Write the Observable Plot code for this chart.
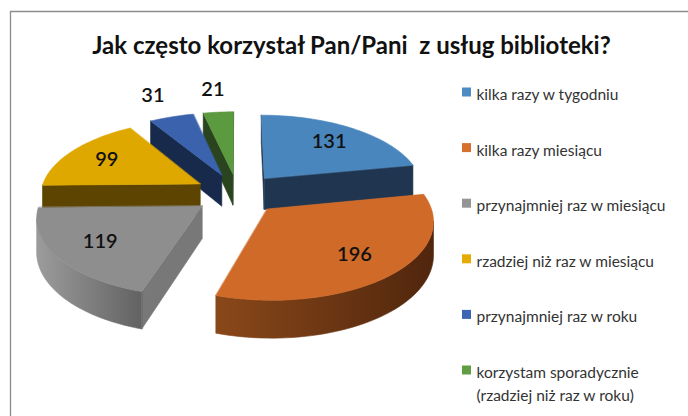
<!DOCTYPE html>
<html><head><meta charset="utf-8">
<script src="https://cdn.jsdelivr.net/npm/d3@7"></script>
<script src="https://cdn.jsdelivr.net/npm/@observablehq/plot@0.6"></script>
<style>body{margin:0;background:#fff;}</style>
</head><body><div id="chart"></div>
<script>
// ---- data ----
const titleText = "Jak często korzystał Pan/Pani\u00a0 z usług biblioteki?";
const categories = [
  "kilka razy w tygodniu",
  "kilka razy miesiącu",
  "przynajmniej raz w miesiącu",
  "rzadziej niż raz w miesiącu",
  "przynajmniej raz w roku",
  "korzystam sporadycznie\n(rzadziej niż raz w roku)"
];
const values = [131, 196, 119, 99, 31, 21];
const legendColors = ["#4F8BC3", "#D7702D", "#959595", "#E4AB00", "#3C65B2", "#5F9E42"];
const topColors    = ["#4A86BE", "#D06A28", "#8E8E8E", "#DFA800", "#3A62AD", "#5C9A3F"];
const radialColors = ["#20354F", "#5A2C11", "#787878", "#5D4400", "#172A4B", "#2A4420"];
const outerLight   = ["#2A4868", "#8A4819", "#9C9C9C", "#6E5100", "#223A66", "#36572A"];
const outerDark    = ["#1A2C44", "#50260D", "#626262", "#4E3A00", "#132340", "#223818"];

// ---- layout / projection ----
const W = 688, H = 416;
const CX = 237, CY = 193, RX = 160, RY = 75, PERSP = 0.13, DEPTH = 32, EXPLODE = 0.27;
const proj = (X, Z, bottom = false) => {
  const s = 1 / (1 + PERSP * Z);
  return [CX + X * RX * s, CY - Z * RY * s + (bottom ? DEPTH * s : 0)];
};
const signedArea = (p) => {
  let a = 0;
  for (let i = 0; i < p.length; i++) {
    const [x1, y1] = p[i], [x2, y2] = p[(i + 1) % p.length];
    a += x1 * y2 - x2 * y1;
  }
  return a / 2;
};

const total = d3.sum(values);
const arcs = d3.pie().sort(null).value(d => d)(values);

const slices = arcs.map((arc, i) => {
  const a0 = arc.startAngle, a1 = arc.endAngle, mid = (a0 + a1) / 2;
  const ox = EXPLODE * Math.sin(mid), oz = EXPLODE * Math.cos(mid);
  const rim = (a, b) => proj(ox + Math.sin(a), oz + Math.cos(a), b);
  const apex = (b) => proj(ox, oz, b);
  const n = Math.max(2, Math.ceil((a1 - a0) / (Math.PI / 90)));
  const angs = d3.range(n + 1).map(k => a0 + (a1 - a0) * k / n);
  const top = [apex(false), ...angs.map(a => rim(a, false))];
  const sTop = Math.sign(signedArea(top));
  const faces = [];
  const start = [apex(false), apex(true), rim(a0, true), rim(a0, false)];
  if (Math.sign(signedArea(start)) === sTop) faces.push({pts: start, fill: radialColors[i]});
  const end = [apex(false), rim(a1, false), rim(a1, true), apex(true)];
  if (Math.sign(signedArea(end)) === sTop) faces.push({pts: end, fill: radialColors[i]});
  // outer curved side, merge visible runs
  let run = [];
  const flush = () => {
    if (run.length > 1) {
      const poly = [...run.map(a => rim(a, false)), ...run.slice().reverse().map(a => rim(a, true))];
      faces.push({pts: poly, fill: `url(#side${i})`});
    }
    run = [];
  };
  for (let k = 0; k < n; k++) {
    const q = [rim(angs[k + 1], false), rim(angs[k], false), rim(angs[k], true), rim(angs[k + 1], true)];
    const ar = signedArea(q);
    if (Math.sign(ar) === sTop && Math.abs(ar) > 1e-6) {
      if (run.length === 0) run.push(angs[k]);
      run.push(angs[k + 1]);
    } else flush();
  }
  flush();
  faces.push({pts: top, fill: topColors[i]});
  const share = values[i] / total;
  const r = share < 0.06 ? 1.43 : 0.72;
  const lab = proj(ox + r * Math.sin(mid), oz + r * Math.cos(mid));
  return {i, oz, faces, lab, value: values[i]};
});

const order = slices.slice().sort((a, b) => b.oz - a.oz);

const defsMark = () => {
  const g = d3.create("svg:g");
  const defs = g.append("defs");
  values.forEach((v, i) => {
    const lg = defs.append("linearGradient").attr("id", `side${i}`)
      .attr("x1", 0).attr("x2", 1).attr("y1", 0).attr("y2", 0);
    lg.append("stop").attr("offset", 0).attr("stop-color", outerLight[i]);
    lg.append("stop").attr("offset", 1).attr("stop-color", outerDark[i]);
  });
  return g.node();
};

const faceMarks = [];
for (const s of order) {
  for (const f of s.faces) {
    faceMarks.push(Plot.line(f.pts, {
      x: d => d[0], y: d => d[1], curve: "linear-closed",
      fill: f.fill, stroke: f.fill, strokeWidth: 0.6, strokeLinejoin: "round"
    }));
  }
}

const LEG_X = 462, LEG_Y0 = 92, LEG_DY = 55.6, LEG_SW = 9, LEG_FS = 15.5, LEG_LH = 1.5;
const legendRows = categories.map((c, i) => ({c, i, lines: c.split("\n").length}));

const chart = Plot.plot({
  width: W, height: H, margin: 0,
  x: {domain: [0, W], range: [0, W], axis: null},
  y: {domain: [0, H], range: [0, H], axis: null},
  style: {fontFamily: "Lato, 'Open Sans', sans-serif", background: "#fff"},
  marks: [
    defsMark,
    Plot.ruleX([10], {y1: 11, y2: H, stroke: "#8c8c8c", strokeWidth: 1.3}),
    Plot.ruleY([11], {x1: 10, x2: W, stroke: "#8c8c8c", strokeWidth: 1.3}),
    ...faceMarks,
    Plot.text(slices, {x: d => d.lab[0], y: d => d.lab[1], text: d => String(d.value),
      fontSize: 20, fontWeight: 600, fill: "#111"}),
    Plot.text([titleText], {x: 351, y: 46, text: d => d, fontSize: 24, fontWeight: 700, fill: "#111"}),
    Plot.rect(legendRows, {x1: LEG_X, x2: LEG_X + LEG_SW,
      y1: d => LEG_Y0 + d.i * LEG_DY - LEG_SW / 2, y2: d => LEG_Y0 + d.i * LEG_DY + LEG_SW / 2,
      fill: d => legendColors[d.i]}),
    Plot.text(legendRows, {x: LEG_X + LEG_SW + 5,
      y: d => LEG_Y0 + d.i * LEG_DY + (d.lines - 1) * LEG_FS * LEG_LH / 2,
      text: d => d.c, textAnchor: "start", fontSize: LEG_FS, lineHeight: LEG_LH, fill: "#333"})
  ]
});
document.getElementById("chart").appendChild(chart);
</script>
</body></html>
